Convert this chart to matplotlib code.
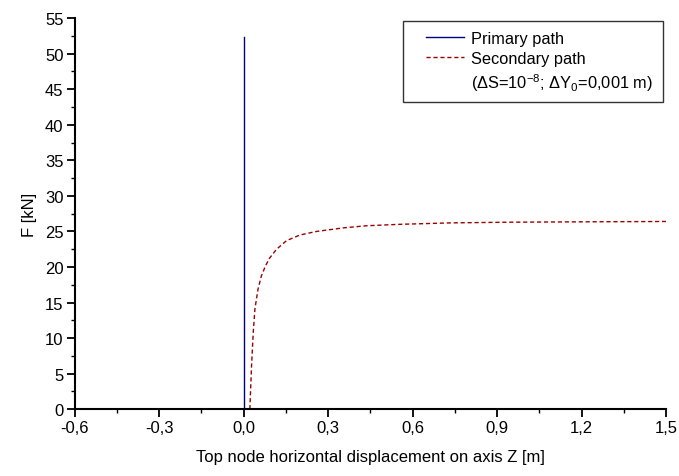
import matplotlib
matplotlib.use("Agg")
import numpy as np
import matplotlib.pyplot as plt
from matplotlib.ticker import MultipleLocator, FuncFormatter
from matplotlib.lines import Line2D
from matplotlib.legend_handler import HandlerLine2D

plt.rcParams["font.family"] = ["Liberation Sans", "DejaVu Sans"]
plt.rcParams["mathtext.fontset"] = "custom"
plt.rcParams["mathtext.rm"] = "Liberation Sans"
plt.rcParams["mathtext.it"] = "Liberation Sans"

# primary path: vertical line at Z = 0
primary_z = [0.0, 0.0]
primary_f = [0.0, 52.3]

# secondary path
secondary_z = [0.022, 0.028, 0.034, 0.040, 0.051, 0.063, 0.078, 0.093, 0.117,
               0.152, 0.20, 0.259, 0.354, 0.437, 0.555, 0.733, 0.95, 1.2, 1.5]
secondary_f = [0.0, 6.1, 10.8, 14.1, 16.9, 18.75, 20.2, 21.3, 22.5,
               23.7, 24.5, 25.0, 25.5, 25.8, 26.0, 26.2, 26.3, 26.35, 26.4]


class IndentedLine(HandlerLine2D):
    # legend line drawn only over the right part of the handle box (Origin style)
    def get_xdata(self, legend, xdescent, ydescent, width, height, fontsize):
        x = np.array([width - 27.5, width])
        return x, x


fig = plt.figure(figsize=(6.79, 4.77), dpi=100)
ax = fig.add_axes([0.110, 0.140, 0.871, 0.820])

ax.plot(primary_z, primary_f, color="#000080", lw=1.0, label="Primary path")
ax.plot(secondary_z, secondary_f, color="#990000", lw=1.0, ls=(0, (3, 2)),
        label="Secondary path")

ax.set_xlim(-0.6, 1.5)
ax.set_ylim(0, 55)
ax.xaxis.set_major_locator(MultipleLocator(0.3))
ax.xaxis.set_minor_locator(MultipleLocator(0.15))
ax.yaxis.set_major_locator(MultipleLocator(5))
ax.yaxis.set_minor_locator(MultipleLocator(2.5))
ax.xaxis.set_major_formatter(FuncFormatter(lambda v, p: f"{v:.1f}".replace(".", ",").replace("-0,0", "0,0")))

for s in ["top", "right"]:
    ax.spines[s].set_visible(False)
for s in ["left", "bottom"]:
    ax.spines[s].set_linewidth(1.5)
ax.tick_params(which="major", direction="out", length=5.5, width=1.3, labelsize=12, pad=2.5)
ax.tick_params(which="minor", direction="out", length=3, width=1.0)

ax.set_xlabel("Top node horizontal displacement on axis Z [m]", fontsize=12, labelpad=10)
ax.set_ylabel("F [kN]", fontsize=12, labelpad=6)

handles, labels = ax.get_legend_handles_labels()
handles.append(Line2D([], [], color="none"))
labels.append(r"($\Delta$S=10$^{-8}$; $\Delta$Y$_0$=0,001 m)")
leg = ax.legend(handles, labels, loc="upper right", bbox_to_anchor=(0.995, 0.992),
                fontsize=11.8, frameon=True, fancybox=False, edgecolor="black",
                handlelength=3.15, handletextpad=0.42, borderpad=0.6, labelspacing=0.3,
                borderaxespad=0, handler_map={Line2D: IndentedLine()})
leg.get_frame().set_linewidth(1.0)

fig.savefig("out.png", dpi=100)
